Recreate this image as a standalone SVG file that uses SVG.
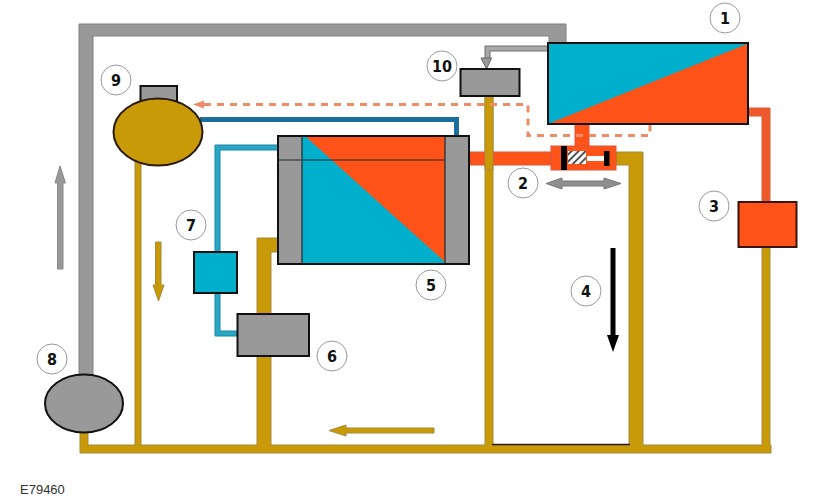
<svg xmlns="http://www.w3.org/2000/svg" width="833" height="500" viewBox="0 0 833 500">
<style>
text{font-family:"Liberation Sans",Arial,sans-serif;fill:#111}
.n{font-family:"DejaVu Sans Condensed","DejaVu Sans",sans-serif;font-size:16px;font-weight:bold;text-anchor:middle}
.c{fill:#fff;stroke:#999;stroke-width:1}
.gold{fill:#c99a07;stroke:#a58a3a;stroke-width:1}
.grey{fill:#999;stroke:#808080;stroke-width:1}
.org{fill:#ff5319;stroke:#d8583a;stroke-width:1}
.teal{fill:#2aa6c4;stroke:#1787a8;stroke-width:1}
.box{stroke:#111;stroke-width:2}
</style>
<rect width="833" height="500" fill="#fff"/>
<g id="connectors">
<path class="grey" d="M79 375V24H566V44H549V36H93V375Z"/>
<path d="M548 46H485V60H490V51H548Z" fill="#a8a8a8" stroke="#707070"/>
<path d="M481 58H491.500L486.500 69Z" fill="#999" stroke="#666"/>
<path class="gold" d="M80 430H88V445H135V160H141V445H257V238H279V252H271V445H485V96H493V445H629V165H616V152H643V445H762V247H770V445H771V453H80Z"/>
<path d="M492 444.500H630" stroke="#2c1a10" stroke-width="1.500"/>
<path class="org" d="M470 152H551V165H470Z"/>
<path class="gold" d="M485 96H493V170H485Z"/>
<path class="org" d="M575 124H589V147H575Z"/>
<path d="M749 108H770V203H762V116H749Z" fill="#ee5a2b" stroke="#dd5a35"/>
<path d="M200 119.500H456.500V136" fill="none" stroke="#1a6f9c" stroke-width="5"/>
<path class="teal" d="M278 145V150H220V252H215V145Z"/>
<path class="teal" d="M215 293H220V331H237V336H215Z"/>
<path d="M204 104.500H528V135.500H650V124" fill="none" stroke="#ee8c68" stroke-width="3" stroke-dasharray="7 6"/>
<path d="M193 104.500L204 100.500V108.500Z" fill="#ee8c68"/>
</g>
<g id="node-1">
<rect class="box" x="548" y="43" width="200" height="81" fill="#ff5319"/>
<path d="M549 123.500V44H747Z" fill="#00afcb"/>
<circle class="c" cx="725" cy="18" r="15"/><text class="n" x="725" y="24">1</text>
</g>
<g id="node-2">
<rect class="org" x="551" y="146" width="65" height="24"/>
<rect x="561" y="146" width="6" height="24" fill="#000"/>
<rect x="604" y="151" width="5.500" height="15" fill="#000"/>
<rect x="587" y="156" width="17" height="5" fill="#fff"/>
<defs><pattern id="h" width="5" height="5" patternUnits="userSpaceOnUse" patternTransform="rotate(-45)"><rect width="5" height="5" fill="#fff"/><rect width="5" height="2" fill="#555"/></pattern></defs>
<rect x="568" y="151" width="18" height="13" fill="url(#h)"/>
<path d="M546 183.500L562 178V181H604V178L621 183.500L604 189V186H562V189Z" fill="#8f8f8f" stroke="#777"/>
<circle class="c" cx="523" cy="183" r="15"/><text class="n" x="523" y="189">2</text>
</g>
<g id="node-3">
<rect x="738.500" y="202" width="58" height="45" fill="#ff5319" stroke="#3a1408" stroke-width="2"/>
<circle class="c" cx="714" cy="206" r="15"/><text class="n" x="714" y="212">3</text>
</g>
<g id="node-4">
<path d="M610.500 248H615.500V335H619L613 352L607 335H610.500Z" fill="#000"/>
<circle class="c" cx="586" cy="291" r="15"/><text class="n" x="586" y="297">4</text>
</g>
<g id="node-5">
<rect x="278" y="136" width="191" height="128" fill="#999"/>
<path d="M302 136H445V264H302Z" fill="#00afcb"/>
<path d="M305 136H445V262Z" fill="#ff5319"/>
<path d="M278 160H445M302 136V264M445 136V264" fill="none" stroke="#1c2a30" stroke-width="1.200"/>
<rect x="278" y="136" width="191" height="128" fill="none" stroke="#111" stroke-width="2"/>
<circle class="c" cx="431" cy="285" r="15"/><text class="n" x="431" y="291">5</text>
</g>
<g id="node-6">
<rect class="box" x="237.500" y="314" width="71.500" height="42" fill="#999"/>
<circle class="c" cx="332" cy="356" r="15"/><text class="n" x="332" y="362">6</text>
</g>
<g id="node-7">
<rect class="box" x="194" y="252" width="43" height="41" fill="#00afcb"/>
<circle class="c" cx="191" cy="225" r="15"/><text class="n" x="191" y="231">7</text>
</g>
<g id="node-8">
<ellipse cx="84" cy="403.500" rx="39" ry="29" fill="#999" stroke="#111" stroke-width="2"/>
<circle class="c" cx="52" cy="359" r="15"/><text class="n" x="52" y="365">8</text>
</g>
<g id="node-9">
<rect class="box" x="140.500" y="86" width="36.500" height="15" fill="#999"/>
<ellipse cx="158" cy="132" rx="44.500" ry="33.500" fill="#c99a07" stroke="#2a1c08" stroke-width="2"/>
<circle class="c" cx="116" cy="80" r="15"/><text class="n" x="116" y="86">9</text>
</g>
<g id="node-10">
<rect class="box" x="460.500" y="69" width="59" height="27" fill="#999"/>
<circle class="c" cx="442" cy="66" r="15"/><text class="n" x="442" y="72">10</text>
</g>
<g id="flow-arrows">
<path d="M57.500 269V183H55L60 166L65.500 183H63V269Z" fill="#999" stroke="#888"/>
<path d="M155.500 242H161V285H164L158.500 301L153 285H155.500Z" fill="#c99a07" stroke="#a58a3a"/>
<path d="M434 428V433H346V436L329 430.500L346 425V428Z" fill="#c99a07" stroke="#a58a3a"/>
</g>
<text x="20" y="494" font-size="13" style="fill:#333">E79460</text>
</svg>
